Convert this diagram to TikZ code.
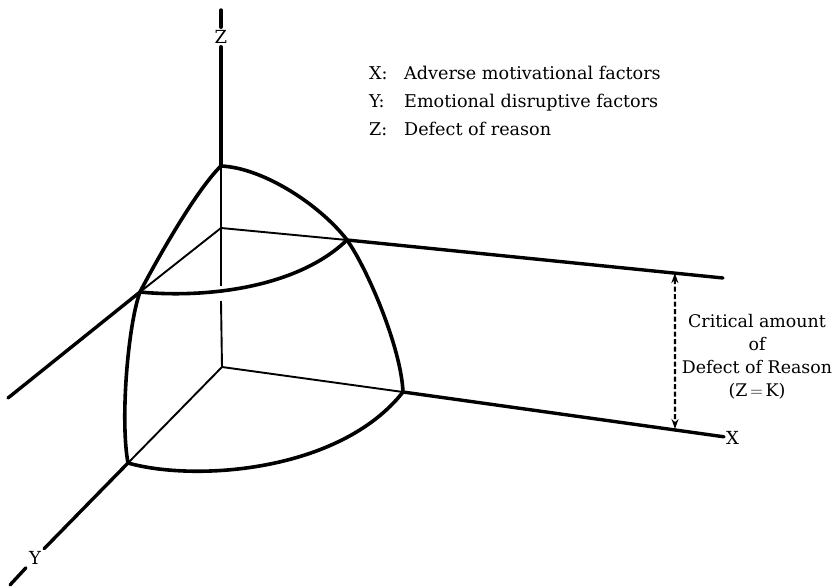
\documentclass[tikz,border=0pt]{standalone}
\usepackage{fontspec}
\setmainfont{DejaVu Serif}
\usetikzlibrary{arrows.meta, calc, positioning}

\begin{document}
\begin{tikzpicture}[x=1pt, y=-1pt,
    axisline/.style={line width=3.4pt, line cap=round},
    innerline/.style={line width=1.9pt},
    shellarc/.style={line width=3.6pt, line cap=round},
    axislabel/.style={font=\fontsize{18}{20}\selectfont, inner sep=3pt},
    legendtext/.style={font=\fontsize{17.6}{20}\selectfont, anchor=base west, inner sep=0pt},
    criticaltext/.style={font=\fontsize{17.4}{23}\selectfont, align=center, inner sep=0pt}]
  \useasboundingbox (0,0) rectangle (833,588);
  % corners of the octant
  \coordinate (O) at (222,367);
  \coordinate (T) at (221,166);
  \coordinate (Zk) at (221,228);
  \coordinate (Pl) at (140,292);
  \coordinate (Pr) at (347,240);
  \coordinate (Xs) at (403,392);
  \coordinate (Ys) at (128,463);
  % free ends
  \coordinate (Ztick) at (221,10);
  \coordinate (Ue) at (723,278);
  \coordinate (Le) at (8,398);
  \coordinate (Yend) at (10,585);
  \coordinate (Zgapa) at (221,286);
  \coordinate (Zgapb) at (221,301);
  \coordinate (Ka) at ($(Pr)!0.872!(Ue)$);
  \coordinate (Kb) at (675,429);
  % labels
  \node[axislabel] (Zlab) at (221,37) {Z};
  \node[axislabel, anchor=west, inner sep=2pt] (Xlab) at (724,438) {X};
  \node[axislabel] (Ylab) at (35,558) {Y};
  \node[legendtext] (legx) at (369,80) {\makebox[35pt][l]{X:}Adverse motivational factors};
  \node[legendtext] (legy) at (369,108) {\makebox[35pt][l]{Y:}Emotional disruptive factors};
  \node[legendtext] (legz) at (369,136) {\makebox[35pt][l]{Z:}Defect of reason};
  \node[criticaltext] (crit) at (757,357) {Critical amount\\of\\Defect of Reason\\(Z$\,=\,$K)};

  % inside the octant
  \draw[innerline] (T) -- (Zgapa);
  \draw[innerline] (Zgapb) -- (O);
  \draw[innerline] (Zk) -- (Pl);
  \draw[innerline] (Zk) -- (Pr);
  \draw[innerline] (O) -- (Xs);
  \draw[innerline] (O) -- (Ys);

  % the shell
  \draw[shellarc] (T) .. controls (265,168) and (322,207) .. (Pr)
    .. controls (367,268) and (401,347) .. (Xs);
  \draw[shellarc] (T) .. controls (195,191) and (153,267) .. (Pl)
    .. controls (128,325) and (120,420) .. (Ys);
  \draw[shellarc] (Pl) .. controls (200,298) and (295,290) .. (Pr);
  \draw[shellarc] (Ys) .. controls (195,482) and (340,472) .. (Xs);

  % axes and plane Z=K outside
  \draw[axisline] (Ztick) -- (Zlab);
  \draw[axisline] (Zlab) -- (T);
  \draw[axisline] (Pr) -- (Ue);
  \draw[axisline] (Pl) -- (Le);
  \draw[axisline] (Xs) -- (Xlab);
  \draw[axisline] (Ys) -- (Ylab);
  \draw[axisline] (Ylab) -- (Yend);

  % critical amount
  \draw[line width=2.2pt, dash pattern=on 5pt off 2.5pt,
    {Stealth[length=10pt,width=7pt]}-{Stealth[length=10pt,width=7pt]}] (Ka) -- (Kb);
\end{tikzpicture}
\end{document}
